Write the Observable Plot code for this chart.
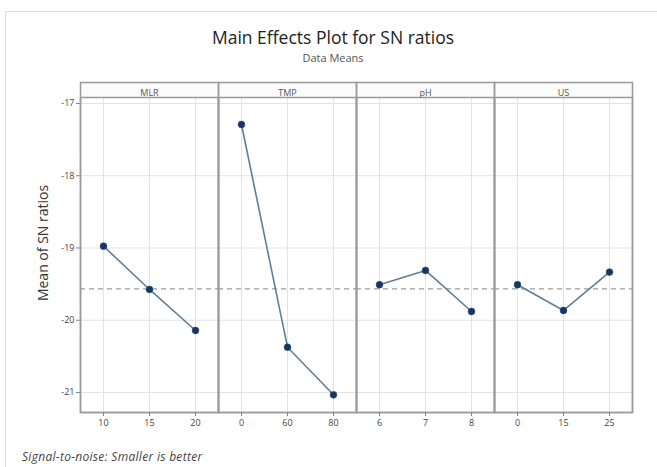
<!DOCTYPE html>
<html>
<head>
<meta charset="utf-8">
<script src="https://cdn.jsdelivr.net/npm/d3@7"></script>
<script src="https://cdn.jsdelivr.net/npm/@observablehq/plot@0.6"></script>
<style>
  html, body { margin: 0; padding: 0; background: #fff; }
  #wrap { position: relative; width: 657px; height: 467px; overflow: hidden; font-family: "Open Sans", "Noto Sans", sans-serif; }
  #border { position: absolute; left: 5px; top: 11px; width: 700px; height: 500px; border-left: 1px solid #dedede; border-top: 1px solid #dedede; }
  #title { position: absolute; left: 333px; top: 27px; transform: translateX(-50%); font-size: 17.5px; line-height: 21px; color: #222; white-space: nowrap; }
  #subtitle { position: absolute; left: 333px; top: 51px; transform: translateX(-50%); font-size: 11px; line-height: 14px; color: #555; white-space: nowrap; }
  #caption { position: absolute; left: 22px; top: 449px; font-size: 12px; line-height: 15px; font-style: italic; color: #444; white-space: nowrap; letter-spacing: 0.3px; }
  #chart { position: absolute; left: 0; top: 0; }
</style>
</head>
<body>
<div id="wrap">
  <div id="border"></div>
  <div id="chart"></div>
  <div id="title">Main Effects Plot for SN ratios</div>
  <div id="subtitle">Data Means</div>
  <div id="caption">Signal-to-noise: Smaller is better</div>
</div>
<script>
// Factors (panels)
const factors = ["MLR", "TMP", "pH", "US"];

// Level labels per factor
const mlrLevels = ["10", "15", "20"];
const tmpLevels = ["0", "60", "80"];
const phLevels  = ["6", "7", "8"];
const usLevels  = ["0", "15", "25"];

// Mean of SN ratios per level
const mlrSN = [-18.975, -19.574, -20.142];
const tmpSN = [-17.291, -20.373, -21.032];
const phSN  = [-19.509, -19.311, -19.879];
const usSN  = [-19.509, -19.865, -19.334];

// Y axis ticks
const yTicks = [-17, -18, -19, -20, -21];

const levelsBy = { MLR: mlrLevels, TMP: tmpLevels, pH: phLevels, US: usLevels };
const snBy = { MLR: mlrSN, TMP: tmpSN, pH: phSN, US: usSN };

const rows = factors.flatMap(f => levelsBy[f].map((lv, i) => ({ factor: f, idx: i, level: lv, sn: snBy[f][i] })));
const grandMean = d3.mean(rows, d => d.sn);

const H = 467, marginTop = 97, marginBottom = 55;
const panelH = H - marginTop - marginBottom;

const chart = Plot.plot({
  width: 657,
  height: H,
  marginLeft: 80,
  marginRight: 25,
  marginTop,
  marginBottom,
  style: { fontFamily: "'Open Sans', 'Noto Sans', sans-serif", fontSize: "9px", color: "#444", background: "transparent" },
  fx: { domain: factors, padding: 0, axis: null },
  x: { type: "point", domain: [0, 1, 2], padding: 0.5 },
  y: { domain: [-21.277, -16.917] },
  marks: [
    Plot.frame({ fill: "#fbfbfb", insetTop: -15, insetBottom: panelH }),
    Plot.ruleX([0, 1, 2], { stroke: "#e3e3e3", strokeWidth: 1 }),
    Plot.ruleY(yTicks, { stroke: "#e3e3e3", strokeWidth: 1 }),
    Plot.ruleY([grandMean], { stroke: "#9c9c9c", strokeWidth: 1.3, strokeDasharray: "5,4" }),
    Plot.line(rows, { x: "idx", y: "sn", fx: "factor", stroke: "#5f7f99", strokeWidth: 1.6 }),
    Plot.dot(rows, { x: "idx", y: "sn", fx: "factor", r: 3.4, fill: "#17365f", stroke: "#2a4c7a", strokeWidth: 0.6 }),
    Plot.frame({ stroke: "#9a9a9a", strokeWidth: 1.5, insetTop: -15 }),
    Plot.frame({ stroke: "#9a9a9a", strokeWidth: 1.5 }),
    Plot.text(factors, { fx: d => d, text: d => d, frameAnchor: "top", dy: -7.5, fontSize: 9, fill: "#555" }),
    Plot.axisY({ ticks: yTicks, tickFormat: d => String(d), tickSize: 4, tickPadding: 2, label: null, stroke: "#888", fill: "#444" }),
    Plot.axisX({ ticks: [0, 1, 2], tickFormat: () => "", tickSize: 4, label: null, stroke: "#888" }),
    Plot.text(rows, { x: "idx", fx: "factor", text: "level", frameAnchor: "bottom", dy: 13, fontSize: 9, fill: "#444" }),
    Plot.text([{ factor: "MLR", t: "Mean of SN ratios" }], { fx: "factor", text: "t", frameAnchor: "left", textAnchor: "middle", rotate: -90, dx: -37, dy: -12, fontSize: 14, fill: "#333" })
  ]
});
document.getElementById("chart").appendChild(chart);
</script>
</body>
</html>
